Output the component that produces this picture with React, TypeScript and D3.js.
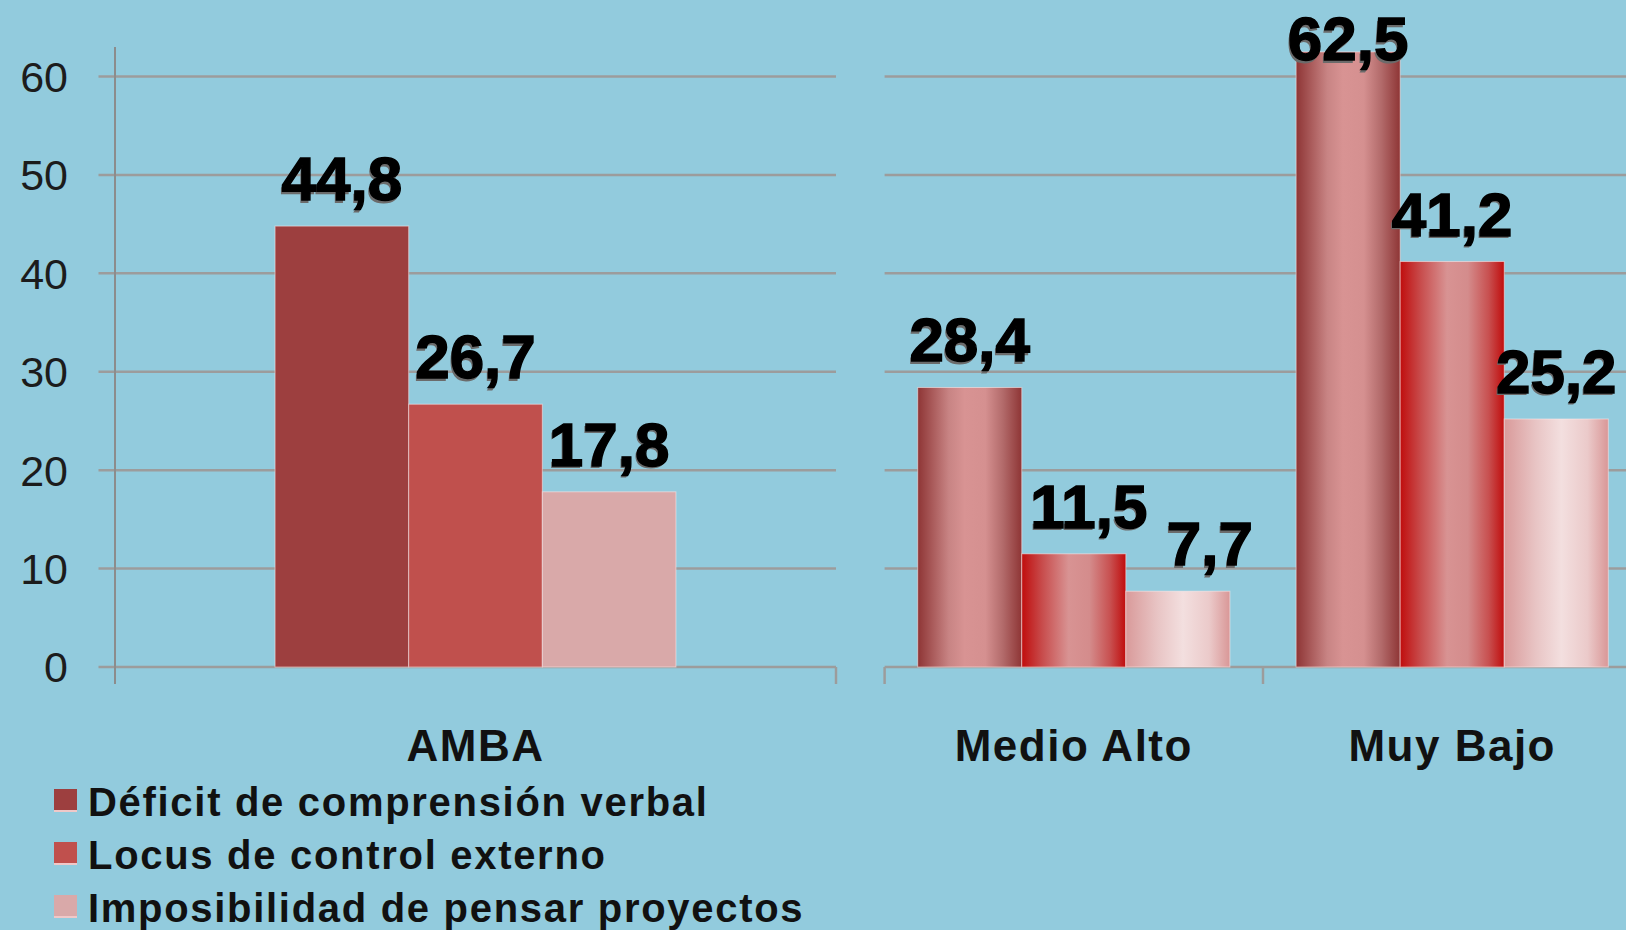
import React from 'react';
import * as d3 from 'd3';

// data
const leftCategories = ['AMBA'];
const rightCategories = ['Medio Alto', 'Muy Bajo'];
const seriesNames = [
  'Déficit de comprensión verbal',
  'Locus de control externo',
  'Imposibilidad de pensar proyectos',
];
const ambaValues = [44.8, 26.7, 17.8];
const medioAltoValues = [28.4, 11.5, 7.7];
const muyBajoValues = [62.5, 41.2, 25.2];
const yTicks = [0, 10, 20, 30, 40, 50, 60];

const valuesByCategory: Record<string, number[]> = {
  AMBA: ambaValues,
  'Medio Alto': medioAltoValues,
  'Muy Bajo': muyBajoValues,
};

const W = 1626;
const H = 930;
const BG = '#92cbdd';
const flatColors = ['#9d3f3f', '#c0504d', '#d9a9a9'];
const gradIds = ['g-dark', 'g-red', 'g-pink'];
const LABEL_FONT = '"Liberation Sans", Arial, sans-serif';

const fmt = (v: number) => v.toFixed(1).replace('.', ',');

export default function App() {
  const y = d3.scaleLinear().domain([0, 60]).range([667, 76.5]);

  const xLeft = d3.scaleBand<string>()
    .domain(leftCategories)
    .range([115, 836])
    .paddingInner(0.444)
    .paddingOuter(0.222);

  const xRight = d3.scaleBand<string>()
    .domain(rightCategories)
    .range([884.6, 1641.4])
    .paddingInner(0.175)
    .paddingOuter(0.0875);

  const xSeriesLeft = d3.scaleBand<number>().domain([0, 1, 2]).range([0, xLeft.bandwidth()]);
  const xSeriesRight = d3.scaleBand<number>().domain([0, 1, 2]).range([0, xRight.bandwidth()]);

  // small hand nudges seen in the original slide
  const labelNudge: Record<string, number> = { 'Medio Alto-1': 15, 'Medio Alto-2': 32 };

  const renderBars = (
    cats: string[],
    xs: d3.ScaleBand<string>,
    xsub: d3.ScaleBand<number>,
    gradient: boolean,
  ) =>
    cats.map((c) => {
      const vals = valuesByCategory[c];
      return (
        <g key={c}>
          {vals.map((v, i) => {
            const x0 = (xs(c) || 0) + (xsub(i) || 0);
            const bw = xsub.bandwidth();
            return (
              <rect
                key={i}
                x={x0}
                y={y(v)}
                width={bw}
                height={y(0) - y(v)}
                fill={gradient ? `url(#${gradIds[i]})` : flatColors[i]}
                stroke="rgba(255,235,235,0.55)"
                strokeWidth={1}
              />
            );
          })}
          {vals.map((v, i) => {
            const cx = (xs(c) || 0) + (xsub(i) || 0) + xsub.bandwidth() / 2 + (labelNudge[`${c}-${i}`] || 0);
            const by = Math.max(y(v) - 26, 60);
            const t = fmt(v);
            return (
              <g key={'l' + i} fontFamily={LABEL_FONT} fontWeight="bold" fontSize={62} textAnchor="middle">
                <text x={cx - 1.5} y={by + 2.5} fill="#6b6b6b">{t}</text>
                <text x={cx} y={by} fill="#000" stroke="#000" strokeWidth={1.4}>{t}</text>
              </g>
            );
          })}
        </g>
      );
    });

  return (
    <svg
      width={W}
      height={H}
      style={{ position: 'absolute', left: 0, top: 0, display: 'block' }}
    >
      <defs>
        <linearGradient id="g-dark" x1="0" x2="1" y1="0" y2="0">
          <stop offset="0" stopColor="#8e3535" />
          <stop offset="0.3" stopColor="#c88484" />
          <stop offset="0.45" stopColor="#d89393" />
          <stop offset="0.65" stopColor="#d59090" />
          <stop offset="0.82" stopColor="#b26a6a" />
          <stop offset="1" stopColor="#8e3535" />
        </linearGradient>
        <linearGradient id="g-red" x1="0" x2="1" y1="0" y2="0">
          <stop offset="0" stopColor="#c00d0d" />
          <stop offset="0.2" stopColor="#c84d4d" />
          <stop offset="0.45" stopColor="#d89393" />
          <stop offset="0.65" stopColor="#d48c8c" />
          <stop offset="0.85" stopColor="#c85050" />
          <stop offset="1" stopColor="#c00d0d" />
        </linearGradient>
        <linearGradient id="g-pink" x1="0" x2="1" y1="0" y2="0">
          <stop offset="0" stopColor="#d99a9a" />
          <stop offset="0.3" stopColor="#e8c4c4" />
          <stop offset="0.55" stopColor="#f3dfdf" />
          <stop offset="0.8" stopColor="#ebcaca" />
          <stop offset="1" stopColor="#d99797" />
        </linearGradient>
      </defs>

      <rect x={0} y={0} width={W} height={H} fill={BG} />

      {/* gridlines */}
      {yTicks.map((t) => (
        <g key={t}>
          <line x1={98.5} x2={836} y1={y(t)} y2={y(t)} stroke="#9c9c9c" strokeWidth={2.5} />
          <line x1={884.6} x2={W} y1={y(t)} y2={y(t)} stroke="#9c9c9c" strokeWidth={2.5} />
        </g>
      ))}

      {/* y axis */}
      <line x1={115} x2={115} y1={47} y2={684} stroke="#8c8c8c" strokeWidth={2} />
      {yTicks.map((t) => (
        <text
          key={t}
          x={68}
          y={y(t)}
          dy="0.36em"
          textAnchor="end"
          fontFamily={LABEL_FONT}
          fontSize={43}
          fill="#1c1c1c"
        >
          {t}
        </text>
      ))}

      {/* category ticks */}
      <line x1={836} x2={836} y1={667} y2={684} stroke="#9c9c9c" strokeWidth={2.5} />
      {rightCategories.map((c) => {
        const step = xRight.step();
        const x0 = (xRight(c) || 0) - xRight.paddingInner() * step / 2;
        return <line key={c} x1={x0} x2={x0} y1={667} y2={684} stroke="#9c9c9c" strokeWidth={2.5} />;
      })}

      {renderBars(leftCategories, xLeft, xSeriesLeft, false)}
      {renderBars(rightCategories, xRight, xSeriesRight, true)}

      {/* category labels */}
      {leftCategories.map((c) => (
        <text key={c} x={(xLeft(c) || 0) + xLeft.bandwidth() / 2} y={761} textAnchor="middle"
          fontFamily={LABEL_FONT} fontWeight="bold" fontSize={44} letterSpacing={1.5} fill="#111">
          {c}
        </text>
      ))}
      {rightCategories.map((c) => (
        <text key={c} x={(xRight(c) || 0) + xRight.bandwidth() / 2} y={761} textAnchor="middle"
          fontFamily={LABEL_FONT} fontWeight="bold" fontSize={44} letterSpacing={1.5} fill="#111">
          {c}
        </text>
      ))}

      {/* legend */}
      {seriesNames.map((s, i) => (
        <g key={s} transform={`translate(54, ${789 + i * 53})`}>
          <rect x={0} y={0} width={23} height={23} fill={flatColors[i]} />
          <rect x={0} y={21} width={23} height={2} fill="#f0c8c8" />
          <text x={34} y={27} fontFamily={LABEL_FONT} fontWeight="bold" fontSize={40}
            letterSpacing={1.7} fill="#111">
            {s}
          </text>
        </g>
      ))}
    </svg>
  );
}
